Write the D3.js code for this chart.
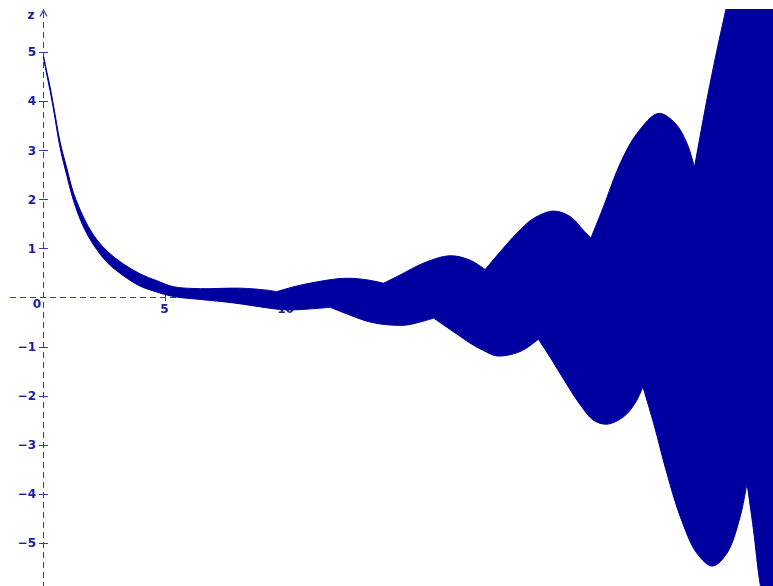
<!DOCTYPE html>
<html>
<head>
<meta charset="utf-8">
<script src="https://cdn.jsdelivr.net/npm/d3@7/dist/d3.min.js"></script>
<style>
  html, body { margin: 0; padding: 0; background: #ffffff; }
  svg { display: block; }
</style>
</head>
<body>
<script>
// Upper and lower envelope of the oscillating response z(t)
const upperX = [0, 0.14, 0.28, 0.41, 0.69, 0.97, 1.24, 1.65, 2.07, 2.62, 3.31, 4.00, 4.69, 5.37, 6.48, 8.13, 9.23, 9.64, 10.61, 12.40, 13.36, 14.05, 14.74, 15.70, 16.80, 17.63, 18.25, 18.87, 19.56, 20.25, 21.07, 21.76, 22.31, 22.62, 23.14, 23.83, 24.52, 25.41, 26.10, 26.59, 26.90, 27.41, 27.83, 28.20, 28.80, 30.3];
const upperZ = [4.92, 4.59, 4.27, 3.92, 3.16, 2.62, 2.13, 1.64, 1.27, 0.95, 0.68, 0.48, 0.34, 0.22, 0.18, 0.19, 0.15, 0.12, 0.25, 0.39, 0.36, 0.29, 0.46, 0.70, 0.85, 0.76, 0.57, 0.93, 1.31, 1.61, 1.76, 1.65, 1.37, 1.21, 1.85, 2.73, 3.34, 3.75, 3.55, 3.14, 2.65, 4.02, 5.04, 5.87, 7.2, 10.3];
const upperCusps = [9.64, 14.05, 18.25, 22.62, 26.90];

const lowerX = [0, 0.14, 0.28, 0.41, 0.69, 0.97, 1.24, 1.65, 2.07, 2.62, 3.31, 4.00, 4.69, 5.37, 6.48, 7.85, 9.23, 9.92, 10.47, 11.85, 12.67, 13.50, 14.33, 15.02, 15.56, 16.12, 17.08, 17.63, 18.18, 18.74, 19.70, 20.45, 20.94, 21.35, 22.17, 22.73, 23.28, 23.97, 24.45, 24.77, 25.21, 25.76, 26.31, 27.00, 27.64, 28.24, 28.79, 29.07, 29.34, 29.62, 30.3];
const lowerZ = [4.88, 4.53, 4.19, 3.84, 3.04, 2.47, 1.97, 1.44, 1.07, 0.72, 0.44, 0.23, 0.11, 0.02, -0.04, -0.11, -0.21, -0.25, -0.25, -0.20, -0.36, -0.50, -0.56, -0.56, -0.50, -0.42, -0.745, -0.93, -1.08, -1.19, -1.10, -0.85, -1.22, -1.55, -2.18, -2.50, -2.58, -2.43, -2.15, -1.82, -2.56, -3.58, -4.46, -5.21, -5.47, -5.21, -4.46, -3.78, -4.74, -5.86, -7.5];
const lowerCusps = [11.85, 16.12, 20.45, 24.77, 29.07];

// Axis ticks
const xTicks = [5, 10, 15, 20, 25];
const yTicks = [-5, -4, -3, -2, -1, 1, 2, 3, 4, 5];
const axisName = "z";

const W = 773, H = 586;
const bandColor = "#0000a0";
const axisColor = "#3434bc";
const textColor = "#1c1ca4";
const fontFamily = "'DejaVu Sans', Verdana, sans-serif";

const x = d3.scaleLinear().domain([0, 30]).range([43.5, 43.5 + 24.2 * 30]);
const y = d3.scaleLinear().domain([-5, 5]).range([297.5 + 5 * 49.1, 297.5 - 5 * 49.1]);

const svg = d3.select("body").append("svg")
  .attr("width", W).attr("height", H)
  .attr("viewBox", `0 0 ${W} ${H}`);

svg.append("defs").append("clipPath").attr("id", "plotClip")
  .append("rect").attr("x", 0).attr("y", 9).attr("width", W).attr("height", H - 9);

const x0 = x(0), y0 = y(0);

// Dashed axes
const axes = svg.append("g").attr("stroke", axisColor).attr("stroke-width", 1).attr("fill", "none");
axes.append("line")
  .attr("x1", 10).attr("x2", W)
  .attr("y1", y0).attr("y2", y0)
  .attr("stroke-dasharray", "6,4");
axes.append("line")
  .attr("x1", x0).attr("x2", x0)
  .attr("y1", 12).attr("y2", H)
  .attr("stroke-dasharray", "6,4");
// Arrow head at the top of the z axis
axes.append("path")
  .attr("d", `M${x0 - 3.5},${16.5} L${x0},${10} L${x0 + 3.5},${16.5}`)
  .attr("stroke-width", 1.2);

// Tick marks
axes.selectAll("line.ytick").data(yTicks).join("line")
  .attr("class", "ytick")
  .attr("x1", x0 - 4.5).attr("x2", x0 + 4.5)
  .attr("y1", d => Math.round(y(d)) + 0.5).attr("y2", d => Math.round(y(d)) + 0.5);
axes.selectAll("line.xtick").data(xTicks).join("line")
  .attr("class", "xtick")
  .attr("x1", d => Math.round(x(d)) + 0.5).attr("x2", d => Math.round(x(d)) + 0.5)
  .attr("y1", y0 - 3.5).attr("y2", y0 + 3.5);

// Tick labels
const labels = svg.append("g")
  .attr("fill", textColor)
  .attr("font-family", fontFamily)
  .attr("font-weight", "bold")
  .attr("font-size", 12);

labels.selectAll("text.ylab").data(yTicks).join("text")
  .attr("class", "ylab")
  .attr("x", 36).attr("y", d => y(d))
  .attr("dy", "0.36em")
  .attr("text-anchor", "end")
  .text(d => d < 0 ? "\u2212" + Math.abs(d) : String(d));

labels.selectAll("text.xlab").data(xTicks).join("text")
  .attr("class", "xlab")
  .attr("x", d => x(d)).attr("y", y0 + 11)
  .attr("dy", "0.36em")
  .attr("text-anchor", "middle")
  .text(d => String(d));

labels.append("text")
  .attr("x", 41).attr("y", y0 + 6.5)
  .attr("dy", "0.36em")
  .attr("text-anchor", "end")
  .text("0");

labels.append("text")
  .attr("x", 31).attr("y", 14.5)
  .attr("dy", "0.36em")
  .attr("text-anchor", "middle")
  .text(axisName);

// Build a smooth outline that stays sharp at the cusps
function smoothPath(xs, zs, cusps) {
  const pts = xs.map((v, i) => [x(v), y(zs[i])]);
  const runs = [];
  let cur = [pts[0]];
  for (let i = 1; i < pts.length; i++) {
    cur.push(pts[i]);
    if (cusps.includes(xs[i]) && i < pts.length - 1) {
      runs.push(cur);
      cur = [pts[i]];
    }
  }
  runs.push(cur);
  const gen = d3.line().curve(d3.curveCatmullRom.alpha(0.5));
  let d = "";
  runs.forEach((r, k) => {
    const s = gen(r);
    d += k === 0 ? s : s.replace(/^M[^CLZ]*/, "");
  });
  return d;
}

const upperPath = smoothPath(upperX, upperZ, upperCusps);
const lowerRev = smoothPath(lowerX.slice().reverse(), lowerZ.slice().reverse(), lowerCusps);
const outline = upperPath + "L" + lowerRev.replace(/^M/, "") + "Z";

svg.append("g").attr("clip-path", "url(#plotClip)")
  .append("path")
  .attr("d", outline)
  .attr("fill", bandColor)
  .attr("stroke", bandColor)
  .attr("stroke-width", 1)
  .attr("stroke-linejoin", "round");
</script>
</body>
</html>
